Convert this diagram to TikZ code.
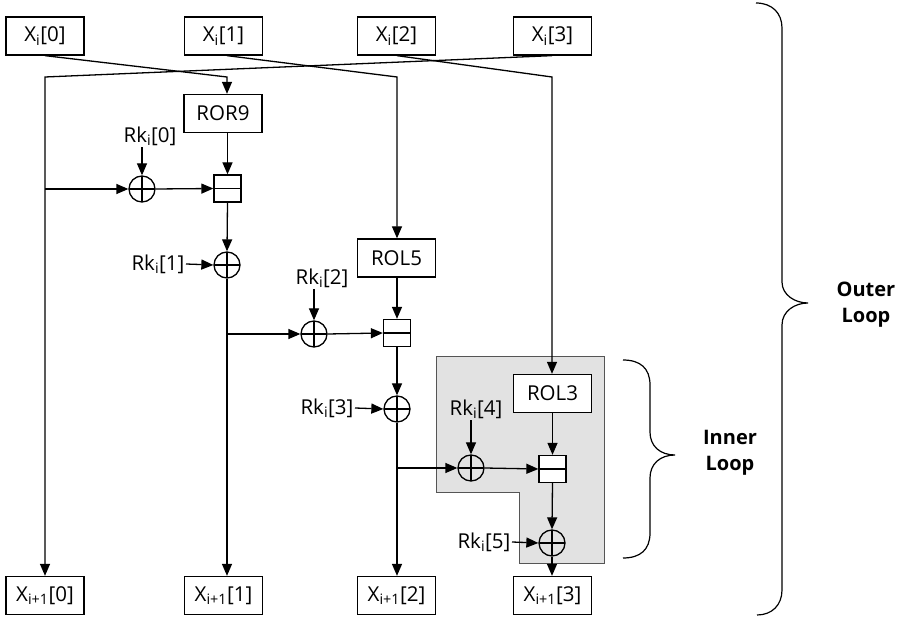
\documentclass[tikz,border=0pt]{standalone}
\usepackage{fontspec}
\setmainfont{Open Sans}
\usetikzlibrary{arrows.meta}
\definecolor{greyfill}{HTML}{E2E2E2}
\definecolor{greyedge}{HTML}{555555}
\begin{document}
\begin{tikzpicture}[x=1pt,y=-1pt,
  font=\fontsize{20.5}{24}\selectfont,
  line width=1.3pt,
  arr/.style={-{Triangle[length=12pt,width=10pt]}},
  wbox/.style={draw,fill=white,minimum width=78pt,minimum height=38pt,inner sep=0pt},
  xorn/.style={draw,circle,minimum size=26pt,inner sep=0pt,
    path picture={\draw (path picture bounding box.north) -- (path picture bounding box.south)
                        (path picture bounding box.west) -- (path picture bounding box.east);}},
  addn/.style={draw,fill=white,minimum width=27pt,minimum height=27pt,inner sep=0pt,
    path picture={\draw (path picture bounding box.west) -- (path picture bounding box.east);}},
  rklab/.style={inner sep=1pt},
  looplab/.style={font=\fontsize{20}{26}\selectfont\bfseries,align=center}
]
\useasboundingbox (0,0) rectangle (900,617);

% grey inner-loop region
\draw[fill=greyfill,draw=greyedge,line width=1pt]
  (436,357) -- (604,357) -- (604,563) -- (519,563) -- (519,492) -- (436,492) -- cycle;

% input / output boxes
\node[wbox] (xi0) at (45,36) {X\textsubscript{i}[0]};
\node[wbox] (xi1) at (223.5,36) {X\textsubscript{i}[1]};
\node[wbox] (xi2) at (396.5,36) {X\textsubscript{i}[2]};
\node[wbox] (xi3) at (552.5,36) {X\textsubscript{i}[3]};
\node[wbox] (yo0) at (45,595.5) {X\textsubscript{i+1}[0]};
\node[wbox] (yo1) at (223.5,595.5) {X\textsubscript{i+1}[1]};
\node[wbox] (yo2) at (396.5,595.5) {X\textsubscript{i+1}[2]};
\node[wbox] (yo3) at (552.5,595.5) {X\textsubscript{i+1}[3]};

% rotations
\node[wbox] (ror9) at (223,113.5) {ROR9};
\node[wbox] (rol5) at (396.5,258) {ROL5};
\node[wbox] (rol3) at (552.5,393.5) {ROL3};

% xors and adders
\node[xorn] (xor1) at (142,189) {};
\node[xorn] (xor2) at (227,265) {};
\node[xorn] (xor3) at (314,334) {};
\node[xorn] (xor4) at (397,409) {};
\node[xorn] (xor5) at (471,468) {};
\node[xorn] (xor6) at (552,543) {};
\node[addn] (add1) at (227.5,188.5) {};
\node[addn] (add2) at (397,333) {};
\node[addn] (add3) at (552.5,469) {};

% round key labels
\node[rklab] (rk0) at (150,136) {Rk\textsubscript{i}[0]};
\node[rklab,anchor=east] (rk1) at (186,264) {Rk\textsubscript{i}[1]};
\node[rklab] (rk2) at (322,278) {Rk\textsubscript{i}[2]};
\node[rklab,anchor=east] (rk3) at (355,408) {Rk\textsubscript{i}[3]};
\node[rklab] (rk4) at (476,409) {Rk\textsubscript{i}[4]};
\node[rklab,anchor=east] (rk5) at (512,542) {Rk\textsubscript{i}[5]};

% crossing input lines
\coordinate (k0) at (227,77);
\coordinate (k1) at (397,77);
\coordinate (k2) at (552,77);
\coordinate (k3) at (45,77);
\draw[arr] (xi0.south) -- (k0) -- (ror9.north -| k0);
\draw[arr] (xi1.south -| k0) -- (k1) -- (rol5.north -| k1);
\draw[arr] (xi2.south -| k1) -- (k2) -- (rol3.north -| k2);
\draw[arr] (xi3.south -| k2) -- (k3) -- (yo0.north -| k3);

% round 0
\draw[arr] (xor1 -| k3) -- (xor1.west);
\draw[arr] (xor1.east) -- (add1.west);
\draw[arr] (ror9.south -| add1) -- (add1.north);
\draw[arr] (rk0.south -| xor1) -- (xor1.north);
\draw[arr] (add1.south) -- (xor2.north);
\draw[arr] (rk1.east) -- (xor2.west);
\draw[arr] (xor2.south) -- (yo1.north -| xor2);

% round 1
\draw[arr] (xor3 -| xor2) -- (xor3.west);
\draw[arr] (rk2.south -| xor3) -- (xor3.north);
\draw[arr] (xor3.east) -- (add2.west);
\draw[arr] (rol5.south -| add2) -- (add2.north);
\draw[arr] (add2.south) -- (xor4.north);
\draw[arr] (rk3.east) -- (xor4.west);
\draw[arr] (xor4.south) -- (yo2.north -| xor4);

% round 2 (inner loop)
\draw[arr] (xor5 -| xor4) -- (xor5.west);
\draw[arr] (rk4.south -| xor5) -- (xor5.north);
\draw[arr] (xor5.east) -- (add3.west);
\draw[arr] (rol3.south -| add3) -- (add3.north);
\draw[arr] (add3.south) -- (xor6.north);
\draw[arr] (rk5.east) -- (xor6.west);
\draw[arr] (xor6.south) -- (yo3.north -| xor6);

% braces
\draw[line width=1.2pt] (756,3) .. controls (772,3) and (782,13) .. (782,28) -- (782,282)
  .. controls (782,295) and (795,303) .. (808,303)
  .. controls (795,303) and (782,311) .. (782,325) -- (782,590)
  .. controls (782,605) and (772,615) .. (757,615);
\draw[line width=1.2pt] (623,360) .. controls (640,360) and (650,368) .. (650,385) -- (650,432)
  .. controls (650,446) and (660,455) .. (675,455)
  .. controls (660,455) and (650,464) .. (650,478) -- (650,533)
  .. controls (650,550) and (640,558) .. (623,558);
\node[looplab] (outer) at (866,305) {Outer\\Loop};
\node[looplab] (inner) at (730,453) {Inner\\Loop};
\end{tikzpicture}
\end{document}
